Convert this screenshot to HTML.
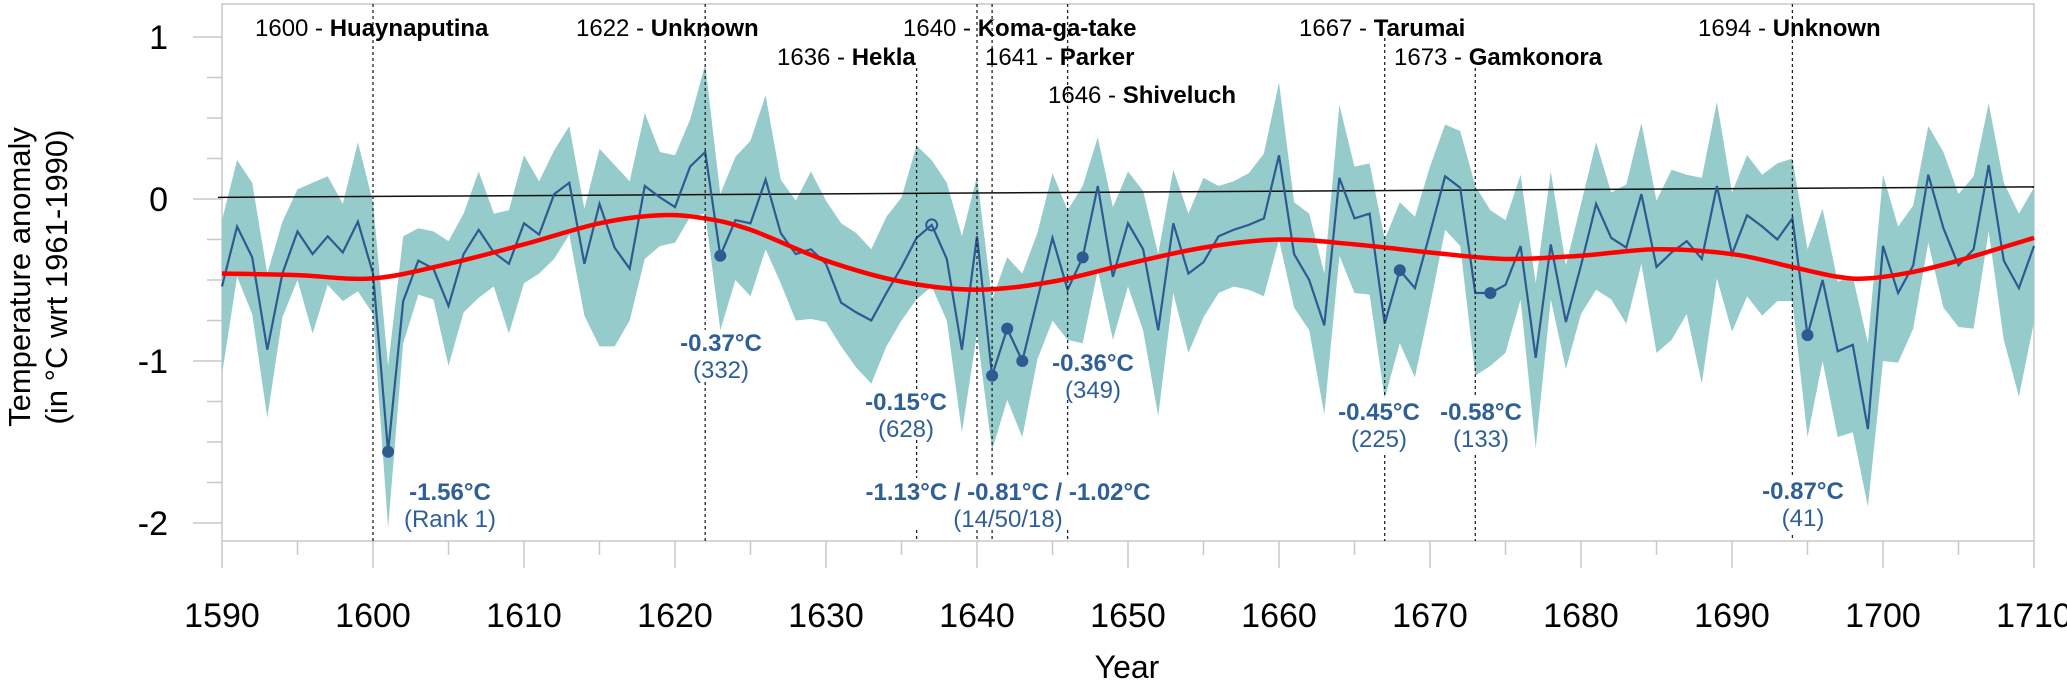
<!DOCTYPE html>
<html><head><meta charset="utf-8"><style>
html,body{margin:0;padding:0;background:#fff;}
svg{display:block;font-family:"Liberation Sans",Arial,sans-serif;}
</style></head><body>
<svg id="chart" width="2067" height="684" viewBox="0 0 2067 684" xmlns="http://www.w3.org/2000/svg"></svg>
<script>
const startYear = 1590;
const meanValues = [-0.54,-0.17,-0.36,-0.93,-0.46,-0.20,-0.34,-0.23,-0.33,-0.14,
-0.46,-1.56,-0.63,-0.38,-0.43,-0.66,-0.34,-0.19,-0.33,-0.40,
-0.15,-0.22,0.03,0.10,-0.40,-0.03,-0.30,-0.43,0.08,0.01,
-0.05,0.20,0.29,-0.35,-0.13,-0.15,0.12,-0.21,-0.34,-0.31,
-0.40,-0.64,-0.70,-0.75,-0.58,-0.42,-0.24,-0.16,-0.37,-0.93,
-0.23,-1.09,-0.80,-1.00,-0.62,-0.24,-0.56,-0.36,0.08,-0.48,
-0.15,-0.31,-0.81,-0.15,-0.46,-0.39,-0.23,-0.19,-0.16,-0.12,
0.27,-0.34,-0.50,-0.78,0.13,-0.12,-0.09,-0.77,-0.44,-0.55,
-0.21,0.14,0.07,-0.58,-0.58,-0.53,-0.29,-0.98,-0.28,-0.76,
-0.41,-0.03,-0.24,-0.30,0.03,-0.42,-0.33,-0.26,-0.37,0.08,
-0.34,-0.10,-0.17,-0.25,-0.12,-0.84,-0.50,-0.94,-0.90,-1.42,
-0.29,-0.58,-0.41,0.15,-0.18,-0.41,-0.31,0.21,-0.38,-0.55,-0.29];
const upperValues = [-0.13,0.24,0.10,-0.46,-0.14,0.06,0.10,0.14,-0.03,0.35,
-0.02,-1.03,-0.23,-0.18,-0.20,-0.26,-0.09,0.17,-0.09,-0.07,
0.27,0.11,0.30,0.45,-0.06,0.31,0.21,0.11,0.53,0.29,
0.27,0.49,0.83,0.03,0.26,0.36,0.64,0.12,-0.01,0.17,
-0.01,-0.15,-0.21,-0.31,-0.11,0.01,0.33,0.24,0.10,-0.23,
0.14,-0.62,-0.36,-0.46,-0.21,0.16,-0.07,0.08,0.38,-0.05,
0.17,0.05,-0.34,0.18,-0.09,0.13,0.08,0.11,0.16,0.28,
0.72,-0.02,-0.09,-0.46,0.58,0.20,0.22,-0.25,-0.02,-0.11,
0.20,0.46,0.42,0.08,-0.07,-0.13,0.15,-0.52,0.17,-0.41,
-0.03,0.35,0.04,0.09,0.47,-0.01,0.18,0.15,0.13,0.60,
0.04,0.27,0.15,0.22,0.25,-0.31,-0.06,-0.51,-0.48,-0.89,
0.15,-0.17,-0.04,0.45,0.29,0.03,0.14,0.59,0.10,-0.09,0.07];
const lowerValues = [-1.08,-0.48,-0.71,-1.35,-0.73,-0.50,-0.83,-0.53,-0.63,-0.57,
-0.71,-2.03,-0.89,-0.59,-0.62,-1.03,-0.70,-0.61,-0.54,-0.83,
-0.52,-0.46,-0.37,-0.22,-0.72,-0.91,-0.91,-0.75,-0.37,-0.29,
-0.27,-0.11,-0.09,-0.81,-0.50,-0.60,-0.31,-0.52,-0.75,-0.74,
-0.76,-0.91,-1.04,-1.14,-0.91,-0.75,-0.62,-0.54,-0.75,-1.44,
-0.83,-1.55,-1.24,-1.47,-0.99,-0.75,-0.87,-0.89,-0.44,-0.87,
-0.54,-0.81,-1.34,-0.58,-0.95,-0.73,-0.58,-0.54,-0.56,-0.60,
-0.25,-0.67,-0.81,-1.33,-0.35,-0.58,-0.59,-1.23,-0.89,-1.10,
-0.66,-0.19,-0.29,-1.09,-1.03,-0.95,-0.62,-1.54,-0.62,-1.05,
-0.71,-0.56,-0.62,-0.77,-0.40,-0.95,-0.87,-0.71,-1.14,-0.49,
-0.82,-0.60,-0.72,-0.63,-0.63,-1.47,-1.00,-1.47,-1.44,-1.90,
-1.00,-1.01,-0.80,-0.27,-0.67,-0.79,-0.80,-0.20,-0.87,-1.22,-0.76];
const smoothYears = [1590,1595,1600,1605,1610,1615,1619,1622,1625,1630,1635,1640,1645,1650,1655,1660,1665,1670,1675,1680,1685,1690,1694,1697,1699,1702,1705,1710];
const smoothValues = [-0.46,-0.47,-0.49,-0.40,-0.28,-0.15,-0.10,-0.12,-0.19,-0.38,-0.51,-0.56,-0.51,-0.40,-0.30,-0.25,-0.28,-0.33,-0.37,-0.35,-0.31,-0.34,-0.42,-0.48,-0.49,-0.45,-0.38,-0.24];
const trendYears = [1590,1710];
const trendValues = [0.01,0.075];
const markedYears = [1601,1623,1641,1642,1643,1647,1668,1674,1695];
const openMarkedYears = [1637];
const xTickLabels = [1590,1600,1610,1620,1630,1640,1650,1660,1670,1680,1690,1700,1710];
const yTickLabels = [1,0,-1,-2];
const eruptionYears = [1600,1622,1636,1640,1641,1646,1667,1673,1694];
const eruptionNames = ["Huaynaputina","Unknown","Hekla","Koma-ga-take","Parker","Shiveluch","Tarumai","Gamkonora","Unknown"];
const eruptionRows = [0,0,1,0,1,2,0,1,0];
const annotationValues = ["-1.56°C","-0.37°C","-0.15°C","-1.13°C / -0.81°C / -1.02°C","-0.36°C","-0.45°C","-0.58°C","-0.87°C"];
const annotationRanks = ["(Rank 1)","(332)","(628)","(14/50/18)","(349)","(225)","(133)","(41)"];

const L=222,R=2034,T=4,B=541;
const xs = yr => L + (yr-1590)*(R-L)/120;
const ys = v => 199 - v*162;
const NS="http://www.w3.org/2000/svg";
const svg=document.getElementById('chart');
function el(tag,attrs,parent){const e=document.createElementNS(NS,tag);for(const k in attrs)e.setAttribute(k,attrs[k]);(parent||svg).appendChild(e);return e;}

const frame=el('rect',{x:L,y:T,width:R-L,height:B-T,fill:'none',stroke:'#c8c8c8','stroke-width':1.5});



let bp=[];
for(let i=0;i<upperValues.length;i++)bp.push(xs(startYear+i).toFixed(1)+','+ys(upperValues[i]).toFixed(1));
for(let i=lowerValues.length-1;i>=0;i--)bp.push(xs(startYear+i).toFixed(1)+','+ys(lowerValues[i]).toFixed(1));
const band=el('polygon',{points:bp.join(' '),fill:'#96cbcb'});



const trend=el('line',{x1:xs(trendYears[0])-4,y1:ys(trendValues[0]),x2:xs(trendYears[1]),y2:ys(trendValues[1]),stroke:'#111','stroke-width':1.5});



const mp=meanValues.map((v,i)=>xs(startYear+i).toFixed(1)+','+ys(v).toFixed(1)).join(' ');
const mean=el('polyline',{points:mp,fill:'none',stroke:'#2d5a91','stroke-width':2.2,'stroke-linejoin':'miter'});



const pts=smoothYears.map((y,i)=>[xs(y),ys(smoothValues[i])]);
let sd='M'+pts[0][0]+','+pts[0][1];
for(let i=0;i<pts.length-1;i++){
  const p0=pts[Math.max(0,i-1)],p1=pts[i],p2=pts[i+1],p3=pts[Math.min(pts.length-1,i+2)];
  const c1=[p1[0]+(p2[0]-p0[0])/6,p1[1]+(p2[1]-p0[1])/6];
  const c2=[p2[0]-(p3[0]-p1[0])/6,p2[1]-(p3[1]-p1[1])/6];
  sd+=` C${c1[0]},${c1[1]} ${c2[0]},${c2[1]} ${p2[0]},${p2[1]}`;
}
const smooth=el('path',{d:sd,fill:'none',stroke:'#ff0000','stroke-width':4.5});



const lineSegs={1600:[[4,541]],1622:[[4,330],[382,541]],1636:[[68,390],[440,478],[530,541]],1640:[[4,478],[530,541]],1641:[[4,478],[530,541]],1646:[[4,350],[400,478],[530,541]],1667:[[38,395],[455,541]],1673:[[68,395],[455,541]],1694:[[4,475],[535,541]]};
eruptionYears.forEach(y=>{
  (lineSegs[y]||[[4,541]]).forEach(s=>{
    const ln=el('line',{x1:xs(y),x2:xs(y),y1:s[0],y2:s[1],stroke:'#222','stroke-width':1.3,'stroke-dasharray':'3,3'});
    
    
  });
});

markedYears.forEach(y=>{
  const c=el('circle',{cx:xs(y),cy:ys(meanValues[y-startYear]),r:6,fill:'#2d5a91'});
  
  
});
openMarkedYears.forEach(y=>{
  const c=el('circle',{cx:xs(y),cy:ys(meanValues[y-startYear]),r:5.5,fill:'none',stroke:'#2d5a91','stroke-width':2});
  
  
});

for(let y=1590;y<=1710;y+=5){
  const major=(y%10===0);
  const t=el('line',{x1:xs(y),x2:xs(y),y1:B,y2:major?568:555,stroke:'#c8c8c8','stroke-width':1.5});
  
  
}
xTickLabels.forEach(y=>{
  const t=el('text',{x:xs(y),y:627,'font-size':34,'text-anchor':'middle',fill:'#000'});
  t.textContent=y;
  
  
});
for(let v=1;v>=-2.001;v-=0.25){
  const major=Math.abs(v-Math.round(v))<1e-6;
  const t=el('line',{x1:major?193:207,x2:L,y1:ys(v),y2:ys(v),stroke:'#c8c8c8','stroke-width':1.5});
  
  
}
yTickLabels.forEach(v=>{
  const t=el('text',{x:168,y:ys(v)+12,'font-size':34,'text-anchor':'end',fill:'#000'});
  t.textContent=v;
  
  
});

const xt=el('text',{x:1127,y:678,'font-size':32,'text-anchor':'middle',fill:'#000'});
xt.textContent='Year';


const yt=el('text',{transform:'translate(30,277) rotate(-90)','font-size':31,'text-anchor':'middle',fill:'#000'});


const yt1=el('tspan',{x:0,y:0},yt);yt1.textContent='Temperature anomaly';
const yt2=el('tspan',{x:0,y:37},yt);yt2.textContent='(in °C wrt 1961-1990)';

// label left positions in the same order as eruptionYears
const labelX=[255,576,777,903,985,1048,1299,1394,1698];
const rowY=[36,65,103];
eruptionYears.forEach((y,i)=>{
  const t=el('text',{x:labelX[i],y:rowY[eruptionRows[i]],'font-size':24,fill:'#000'});
  
  
  const a=el('tspan',{},t);a.textContent=y+' - ';
  const b=el('tspan',{'font-weight':'bold'},t);b.textContent=eruptionNames[i];
});

const annX=[450,721,906,1008,1093,1379,1481,1803];
const annY=[492,343,402,492,363,412,412,491];
annotationValues.forEach((s,i)=>{
  const t=el('text',{x:annX[i],y:annY[i]+8,'font-size':24,'font-weight':'bold','text-anchor':'middle',fill:'#2e5f97'});
  t.textContent=s;
  
  
  const r=el('text',{x:annX[i],y:annY[i]+35,'font-size':24,'text-anchor':'middle',fill:'#2e5f97'});
  r.textContent=annotationRanks[i];
  
  
});
</script>
</body></html>
